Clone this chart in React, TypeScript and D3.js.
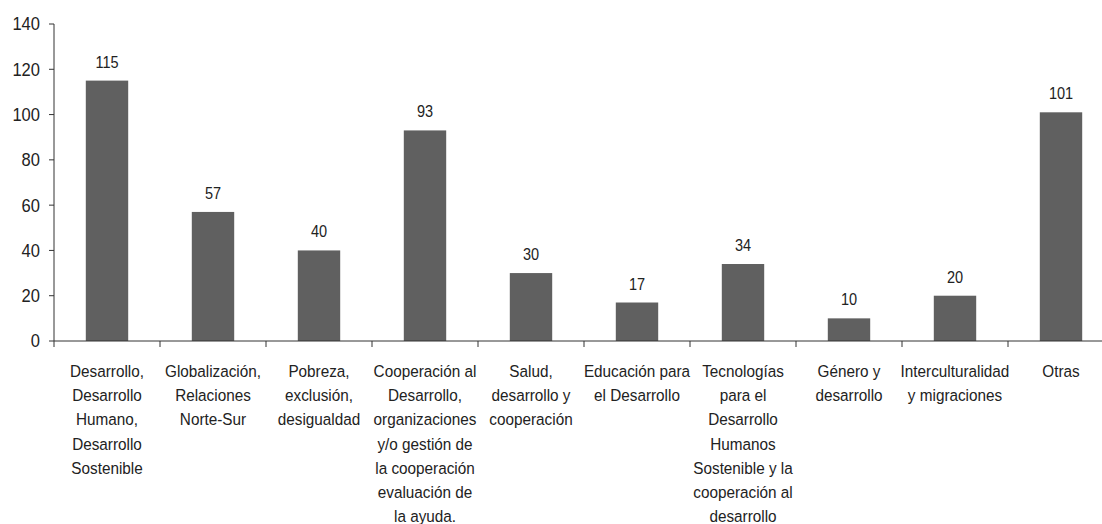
import React from "react";
import * as d3 from "d3";

const categories: string[][] = [
  ["Desarrollo,", "Desarrollo", "Humano,", "Desarrollo", "Sostenible"],
  ["Globalización,", "Relaciones", "Norte-Sur"],
  ["Pobreza,", "exclusión,", "desigualdad"],
  ["Cooperación al", "Desarrollo,", "organizaciones", "y/o gestión de", "la cooperación", "evaluación de", "la ayuda."],
  ["Salud,", "desarrollo y", "cooperación"],
  ["Educación para", "el Desarrollo"],
  ["Tecnologías", "para el", "Desarrollo", "Humanos", "Sostenible y la", "cooperación al", "desarrollo"],
  ["Género y", "desarrollo"],
  ["Interculturalidad", "y migraciones"],
  ["Otras"],
];
const values: number[] = [115, 57, 40, 93, 30, 17, 34, 10, 20, 101];
const yTicks: number[] = [0, 20, 40, 60, 80, 100, 120, 140];

const W = 1102;
const H = 524;
const left = 54;
const right = 1114;
const top = 24;
const bottom = 341;
const font = "'Liberation Sans', Arial, sans-serif";
const textColor = "#222";
const axisColor = "#333";

export default function App() {
  const idx = values.map((_, i) => String(i));
  const x = d3.scaleBand<string>().domain(idx).range([left, right]).paddingInner(0.6).paddingOuter(0.3);
  const y = d3.scaleLinear().domain([0, 140]).range([bottom, top]);
  const step = x.step();
  const boundaries = d3.range(values.length + 1).map((i) => left + i * step);
  return (
    <svg width={W} height={H} style={{ position: "absolute", left: 0, top: 0, background: "#fff" }} fontFamily={font}>
      {values.map((v, i) => (
        <rect key={i} x={x(String(i))} y={y(v)} width={x.bandwidth()} height={y(0) - y(v)} fill="#606060" />
      ))}
      {values.map((v, i) => {
        const cx = (x(String(i)) as number) + x.bandwidth() / 2;
        return (
          <text key={"v" + i} transform={`translate(${cx},${y(v) - 13}) scale(0.88,1)`} textAnchor="middle" fontSize={16.5} fill={textColor}>
            {v}
          </text>
        );
      })}
      {/* y axis */}
      <line x1={left} x2={left} y1={top} y2={bottom} stroke={axisColor} strokeWidth={1} />
      {yTicks.map((t) => (
        <g key={"t" + t}>
          <line x1={left - 5} x2={left} y1={y(t)} y2={y(t)} stroke={axisColor} />
          <text transform={`translate(${left - 14},${y(t)}) scale(0.92,1)`} textAnchor="end" dy="0.36em" fontSize={18} fill={textColor}>
            {t}
          </text>
        </g>
      ))}
      {/* x axis */}
      <line x1={left} x2={right} y1={bottom} y2={bottom} stroke={axisColor} strokeWidth={1} />
      {boundaries.map((b, i) => (
        <line key={"b" + i} x1={b} x2={b} y1={bottom} y2={bottom + 6} stroke={axisColor} />
      ))}
      {categories.map((lines, i) => {
        const cx = (x(String(i)) as number) + x.bandwidth() / 2;
        return (
          <g key={"c" + i} transform={`translate(${cx},0)`}>
            {lines.map((l, j) => (
              <text key={j} transform={`translate(0,${bottom + 36 + j * 24.2}) scale(0.9,1)`} textAnchor="middle" fontSize={17} fill={textColor}>
                {l}
              </text>
            ))}
          </g>
        );
      })}
    </svg>
  );
}
